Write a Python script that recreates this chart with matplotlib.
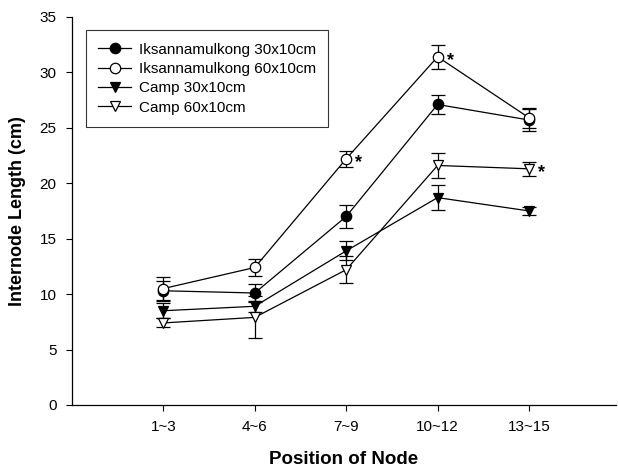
import numpy as np
import matplotlib.pyplot as plt

plt.rcParams['font.family'] = ['Liberation Sans', 'DejaVu Sans']

positions = ['1~3', '4~6', '7~9', '10~12', '13~15']

iksan_30 = [10.3, 10.1, 17.0, 27.1, 25.7]
iksan_30_err = [0.9, 0.8, 1.0, 0.85, 1.0]
iksan_60 = [10.5, 12.4, 22.2, 31.4, 25.9]
iksan_60_err = [1.0, 0.8, 0.7, 1.1, 0.9]
camp_30 = [8.5, 8.9, 13.9, 18.7, 17.5]
camp_30_err = [0.7, 0.5, 0.85, 1.1, 0.35]
camp_60 = [7.4, 7.9, 12.2, 21.6, 21.3]
camp_60_err = [0.4, 1.9, 1.2, 1.1, 0.65]

# (series index, position index) of the significance stars
stars = [(1, 2), (1, 3), (3, 4)]

fig = plt.figure(figsize=(6.18, 4.69), dpi=100)
ax = fig.add_axes([0.1165, 0.1365, 0.88, 0.8275])

x = np.arange(1, len(positions) + 1)
series = [
    ('Iksannamulkong 30x10cm', iksan_30, iksan_30_err, 'o', 'black'),
    ('Iksannamulkong 60x10cm', iksan_60, iksan_60_err, 'o', 'white'),
    ('Camp 30x10cm', camp_30, camp_30_err, 'v', 'black'),
    ('Camp 60x10cm', camp_60, camp_60_err, 'v', 'white'),
]
handles = []
for label, vals, err, marker, face in series:
    cont = ax.errorbar(x, vals, yerr=err, color='black', lw=0.9, marker=marker,
                       markersize=7.5, markerfacecolor=face, markeredgecolor='black',
                       markeredgewidth=0.9, capsize=5, elinewidth=0.9, capthick=0.9,
                       label=label)
    handles.append(cont[0])

for si, pi in stars:
    vals = series[si][1]
    ax.text(x[pi] + 0.1, vals[pi] - 0.3, '*', fontsize=13, fontweight='bold',
            ha='left', va='center')

ax.set_xlim(0, 5.95)
ax.set_ylim(0, 35)
ax.set_xticks(x)
ax.set_xticklabels(positions)
ax.set_yticks(np.arange(0, 36, 5))
ax.tick_params(labelsize=11, direction='out', length=4, width=0.8, pad=7)
ax.spines['top'].set_visible(False)
ax.spines['right'].set_visible(False)
ax.spines['left'].set_linewidth(0.9)
ax.spines['bottom'].set_linewidth(0.9)

ax.set_xlabel('Position of Node', fontsize=13.5, fontweight='bold', labelpad=12)
ax.set_ylabel('Internode Length (cm)', fontsize=13, fontweight='bold', labelpad=10)

leg = ax.legend(handles, [s[0] for s in series], loc='upper left',
                bbox_to_anchor=(0.025, 0.965), fontsize=11,
                frameon=True, fancybox=False, edgecolor='black',
                handlelength=2.2, borderpad=0.8, labelspacing=0.35,
                handletextpad=0.5, borderaxespad=0)
leg.get_frame().set_linewidth(0.8)

fig.savefig('out.png', dpi=100)
